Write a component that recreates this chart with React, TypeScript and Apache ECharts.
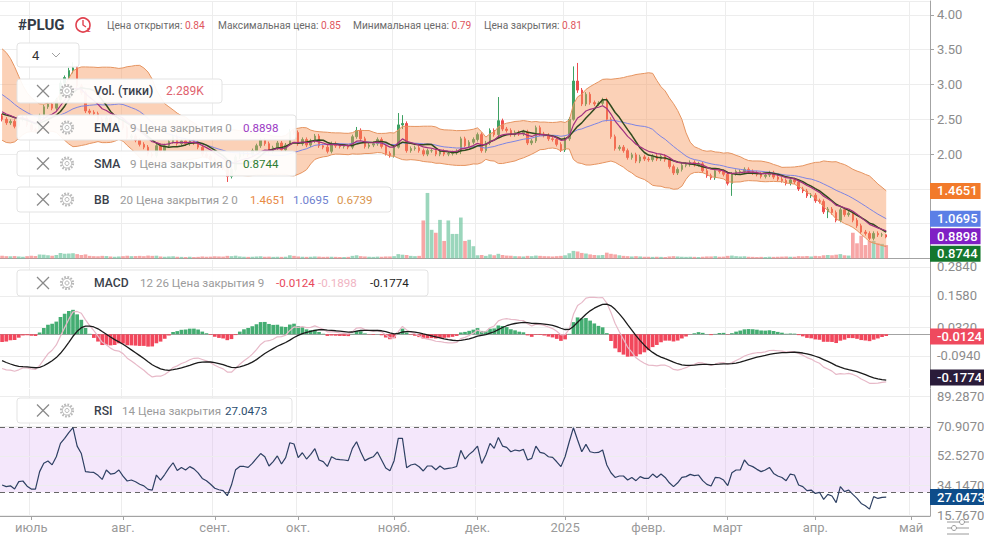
import React, { useEffect, useRef } from "react";
import * as echarts from "echarts";

// ---------- data ----------
// closes before the visible range (used only to warm up the indicators)
const warmupCloses = [2.95, 3.0, 2.92, 2.98, 3.05, 3.0, 2.94, 2.98, 3.06, 3.12, 3.05, 3.1, 3.18, 3.22, 3.3, 3.38, 3.45, 3.4, 3.28, 3.12, 2.98, 2.86, 2.78, 2.7, 2.66, 2.62, 2.6, 2.58, 2.62, 2.6, 2.58, 2.56, 2.55];

// daily closes, 20 Jun 2024 .. 25 Apr 2025
const closes = [
  2.5, 2.45, 2.47, 2.4, 2.5, 2.52, 2.42, 2.35, 2.34, 2.55,
  2.68, 2.72, 2.66, 2.78, 3.02, 3.1, 3.2, 3.24, 2.98, 2.88,
  2.62, 2.6, 2.58, 2.5, 2.4, 2.52, 2.44, 2.45, 2.5, 2.38,
  2.24, 2.26, 2.2, 2.14, 2.1, 2.0, 1.98, 2.12, 2.05, 2.12,
  2.18, 2.25, 2.15, 2.19, 2.15, 2.19, 2.16, 2.1, 2.0, 1.97,
  1.92, 1.84, 1.82, 1.8, 1.68, 1.78, 1.96, 2.0, 2.0, 1.99,
  2.05, 2.12, 2.2, 2.15, 2.04, 2.09, 2.16, 2.06, 2.13, 2.32,
  2.31, 2.15, 2.21, 2.13, 2.19, 2.26, 2.12, 2.1, 2.04, 2.15,
  2.12, 2.11, 2.11, 2.1, 2.25, 2.34, 2.22, 2.11, 2.13, 2.15,
  2.21, 2.11, 2.01, 1.98, 2.1, 2.42, 2.44, 2.05, 2.08, 2.09,
  2.05, 2.0, 2.05, 2.05, 2.0, 2.04, 2.0, 2.01, 2.02, 2.04,
  2.22, 2.12, 2.17, 2.21, 2.28, 2.05, 2.16, 2.34, 2.28, 2.48,
  2.36, 2.34, 2.28, 2.31, 2.29, 2.32, 2.16, 2.19, 2.38, 2.29,
  2.27, 2.22, 2.21, 2.14, 2.06, 2.22, 2.5, 3.05, 2.92, 2.72,
  2.86, 2.74, 2.72, 2.73, 2.78, 2.5, 2.25, 2.08, 2.1, 2.05,
  1.95, 1.99, 1.9, 1.96, 1.93, 1.92, 1.97, 1.93, 1.97, 1.92,
  1.82, 1.73, 1.78, 1.84, 1.85, 1.88, 1.85, 1.86, 1.76, 1.69,
  1.66, 1.76, 1.75, 1.71, 1.58, 1.72, 1.75, 1.75, 1.78, 1.75,
  1.73, 1.71, 1.68, 1.7, 1.73, 1.67, 1.64, 1.62, 1.58, 1.63,
  1.6, 1.5, 1.47, 1.4, 1.41, 1.33, 1.32, 1.17, 1.21, 1.16,
  1.05, 1.2, 1.13, 1.15, 1.05, 0.97, 0.88, 0.86, 0.79, 0.86,
  0.84, 0.84, 0.81,
];

// notable wicks: [candle index, high, low]
const wickExtremes: [number, number, number][] = [
  [14, 3.06, 2.74], [16, 3.24, 3.08], [17, 3.32, 3.16], [54, 1.81, 1.6], [69, 2.36, 2.12],
  [85, 2.39, 2.22], [95, 2.59, 2.08], [96, 2.56, 2.36], [110, 2.25, 2.0], [119, 2.82, 2.26],
  [137, 3.26, 2.48], [138, 3.31, 2.88], [175, 1.74, 1.4], [198, 1.24, 1.08], [212, 0.85, 0.79],
];

// volume, thousands of ticks
const volumesK = [
  0.45, 0.4, 0.38, 0.42, 0.35, 0.3, 0.4, 0.45, 0.42, 0.7,
  0.65, 0.55, 0.45, 0.6, 0.95, 0.8, 0.85, 0.9, 0.75, 0.6,
  0.7, 0.45, 0.4, 0.38, 0.45, 0.42, 0.35, 0.3, 0.35, 0.4,
  0.45, 0.4, 0.42, 0.45, 0.4, 0.5, 0.45, 0.48, 0.35, 0.3,
  0.35, 0.38, 0.3, 0.28, 0.25, 0.3, 0.25, 0.28, 0.35, 0.3,
  0.32, 0.38, 0.35, 0.33, 0.45, 0.4, 0.48, 0.35, 0.3, 0.28,
  0.3, 0.35, 0.38, 0.3, 0.32, 0.28, 0.3, 0.28, 0.3, 0.55,
  0.45, 0.35, 0.3, 0.28, 0.3, 0.35, 0.32, 0.28, 0.3, 0.3,
  0.28, 0.25, 0.25, 0.28, 0.45, 0.55, 0.4, 0.35, 0.3, 0.28,
  0.32, 0.3, 0.35, 0.35, 0.4, 0.75, 0.65, 0.6, 0.45, 0.4,
  0.45, 6.5, 11.2, 4.9, 4.4, 6.6, 3.0, 6.5, 4.2, 4.2,
  7.0, 3.0, 3.2, 2.1, 0.55, 0.6, 0.45, 0.7, 0.55, 0.8,
  0.6, 0.5, 0.45, 0.4, 0.38, 0.35, 0.45, 0.4, 0.5, 0.45,
  0.4, 0.38, 0.35, 0.4, 0.45, 0.55, 0.9, 1.3, 1.2, 0.95,
  0.85, 0.7, 0.6, 0.55, 0.6, 1.0, 0.8, 0.7, 0.55, 0.45,
  0.4, 0.35, 0.4, 0.35, 0.3, 0.3, 0.28, 0.3, 0.28, 0.25,
  0.35, 0.4, 0.35, 0.3, 0.28, 0.3, 0.28, 0.25, 0.3, 0.35,
  0.35, 0.4, 0.3, 0.32, 0.45, 0.5, 0.4, 0.35, 0.38, 0.3,
  0.28, 0.25, 0.28, 0.25, 0.3, 0.28, 0.3, 0.32, 0.35, 0.3,
  0.3, 0.4, 0.38, 0.42, 0.35, 0.45, 0.4, 0.55, 0.6, 0.55,
  0.65, 0.75, 0.55, 0.5, 4.4, 2.6, 3.9, 2.3, 3.0, 3.0,
  2.6, 2.5, 2.289,
];

// RSI(14) as drawn
const rsiValues = [
  34.5, 33.5, 34, 32, 36.6, 37, 33.8, 32, 32, 42.8,
  48, 49.4, 47, 52, 60.3, 63.4, 67, 70, 58.6, 54,
  42.8, 42.5, 42.3, 40.5, 38, 43.8, 41.3, 41.7, 43.8, 40,
  37, 37.6, 36.5, 35, 34, 31.8, 31.4, 40.7, 37.6, 41,
  45, 48.3, 43.5, 45.4, 43.8, 45.9, 44.5, 42, 38.6, 37.2,
  35, 32.5, 31.6, 31, 27.9, 34.5, 44, 46, 46, 45.4,
  47.9, 51, 54, 52, 46.3, 49, 52.5, 47.5, 51.5, 60.7,
  59.9, 51.5, 54.5, 50.6, 53.5, 57, 50, 49, 46, 52,
  50.6, 50.2, 50, 49.6, 57.2, 61.3, 55, 49.6, 51, 52,
  55, 50, 45, 43.4, 49.6, 63.4, 63.4, 45.2, 46.9, 47.5,
  45.8, 43.2, 46.3, 46.3, 44, 46.3, 44.4, 44.8, 45.2, 46,
  56, 50.6, 53.5, 55.6, 58.6, 47.9, 53.1, 60.3, 57.2, 64,
  58.6, 57.8, 55.1, 56.2, 55.6, 56.6, 50, 51, 58.6, 54.7,
  54.1, 52, 51.6, 48.9, 45.9, 52, 61.3, 70, 62.4, 55.1,
  59.7, 55.1, 54.5, 54.7, 56.2, 46.9, 42.1, 39.2, 40.1, 40.1,
  37.6, 39.2, 37.2, 39.7, 38.6, 38.6, 41.3, 39.2, 41.3, 39.2,
  35.9, 33.5, 35.9, 39.2, 39.7, 41.1, 40.3, 40.7, 37.2, 34.9,
  33.9, 39.2, 39, 37.6, 34.1, 42.1, 43.8, 43.8, 50, 46.9,
  45.9, 44.2, 42.8, 43.8, 45.4, 41.7, 40.1, 39.2, 37.2, 41.3,
  40.7, 34.5, 33.5, 31, 31.4, 29.3, 30, 25.6, 28.7, 27.7,
  23.6, 33.5, 30.4, 31.4, 28.7, 26.2, 23.1, 21.7, 19.6, 27.3,
  26.2, 26.9, 27.0473,
];

const holidays = ["2024-07-04", "2024-09-02", "2024-11-28", "2024-12-25", "2025-01-01", "2025-01-09", "2025-01-20", "2025-02-17", "2025-04-18"];
const monthNames = ["2025", "февр.", "март", "апр.", "май", "июнь", "июль", "авг.", "сент.", "окт.", "нояб.", "дек."];
const macdTicks = [0.284, 0.158, 0.032, -0.094];
const rsiTicks = [89.287, 70.907, 52.527, 34.147, 15.767];
const rsiBands = [30, 70];

const headerStats: [string, string][] = [
  ["Цена открытия: ", "0.84"],
  ["Максимальная цена: ", "0.85"],
  ["Минимальная цена: ", "0.79"],
  ["Цена закрытия: ", "0.81"],
];
const lastValues = {
  vol: "2.289K",
  ema: 0.8898,
  sma: 0.8744,
  bbUpper: 1.4651,
  bbMid: 1.0695,
  bbLower: 0.6739,
  macdHist: -0.0124,
  macd: -0.1898,
  signal: -0.1774,
  rsi: 27.0473,
};

// ---------- helpers ----------
const FONT = 'Roboto, "Noto Sans", Arial, sans-serif';

function buildDates(total: number) {
  const out: string[] = [];
  const d = new Date(Date.UTC(2024, 5, 20));
  const lastTrading = Date.UTC(2025, 3, 25);
  while (out.length < total) {
    const iso = d.toISOString().slice(0, 10);
    const wd = d.getUTCDay();
    if (d.getTime() <= lastTrading) {
      if (wd !== 0 && wd !== 6 && !holidays.includes(iso)) out.push(iso);
    } else {
      out.push(iso);
    }
    d.setUTCDate(d.getUTCDate() + 1);
  }
  return out;
}

function sma(a: number[], n: number) {
  return a.map((_, i) => {
    const s = a.slice(Math.max(0, i - n + 1), i + 1);
    return s.reduce((x, y) => x + y, 0) / s.length;
  });
}
function stdev(a: number[], n: number) {
  return a.map((_, i) => {
    const s = a.slice(Math.max(0, i - n + 1), i + 1);
    const m = s.reduce((x, y) => x + y, 0) / s.length;
    return Math.sqrt(s.reduce((x, y) => x + (y - m) * (y - m), 0) / s.length);
  });
}
function ema(a: number[], n: number) {
  const k = 2 / (n + 1);
  const out: number[] = [];
  a.forEach((v, i) => out.push(i === 0 ? v : v * k + out[i - 1] * (1 - k)));
  return out;
}

function buildOption() {
  const dates = buildDates(223);
  const isMonthStart = (i: number) => i > 0 && dates[i].slice(0, 7) !== dates[i - 1].slice(0, 7);
  const monthLabel = (i: number) => monthNames[(parseInt(dates[i].slice(5, 7), 10) - 1) % 12];

  const W = warmupCloses.length;
  const full = warmupCloses.concat(closes);
  const cut = (a: number[]) => a.slice(W).map((v) => +v.toFixed(4));
  const mid = sma(full, 20);
  const sd = stdev(full, 20);
  const upper = cut(mid.map((m, i) => m + 2 * sd[i]));
  const lower = cut(mid.map((m, i) => m - 2 * sd[i]));
  const middle = cut(mid);
  const bandDiff = upper.map((u, i) => +(u - lower[i]).toFixed(4));
  const ema9 = cut(ema(full, 9));
  const sma9 = cut(sma(full, 9));
  const e12 = ema(full, 12);
  const e26 = ema(full, 26);
  const macdFull = e12.map((v, i) => v - e26[i]);
  const sigFull = ema(macdFull, 9);
  const macdLine = cut(macdFull);
  const signalLine = cut(sigFull);
  const hist = macdLine.map((v, i) => +(v - signalLine[i]).toFixed(4));

  const opens = closes.map((c, i) => (i === 0 ? warmupCloses[W - 1] : closes[i - 1]));
  const wickMap = new Map<number, [number, number]>();
  wickExtremes.forEach(([i, h, l]) => wickMap.set(i, [h, l]));
  const candles = closes.map((c, i) => {
    const o = opens[i];
    const w = wickMap.get(i);
    const hi = w ? Math.max(w[0], o, c) : Math.max(o, c) + 0.03;
    const lo = w ? Math.min(w[1], o, c) : Math.min(o, c) - 0.03;
    return [o, c, +lo.toFixed(3), +hi.toFixed(3)];
  });
  const UP = "#3ea163";
  const DOWN = "#ef4d4d";
  const volData = volumesK.map((v, i) => ({
    value: v,
    itemStyle: { color: closes[i] >= opens[i] ? "rgba(112,196,160,0.7)" : "rgba(244,128,128,0.7)" },
  }));
  const histData = hist.map((v) => ({ value: v, itemStyle: { color: v >= 0 ? "#44ad72" : "#f2475c" } }));

  const xAxis = (gi: number, labels: boolean) => ({
    type: "category",
    gridIndex: gi,
    data: dates,
    boundaryGap: true,
    axisLine: { show: true, lineStyle: { color: "#a3a3a3", width: 1 } },
    axisTick: { show: labels, alignWithLabel: true, interval: (i: number) => isMonthStart(i), length: 4, lineStyle: { color: "#a3a3a3" } },
    axisLabel: {
      show: labels,
      interval: (i: number) => isMonthStart(i),
      formatter: (_v: string, i: number) => monthLabel(i),
      color: "#9a9a9a",
      fontSize: 13,
      fontFamily: FONT,
      margin: 5,
    },
    splitLine: { show: true, interval: (i: number) => isMonthStart(i), lineStyle: { color: "#ededed", width: 1 } },
  });

  const gridLine = (v: number, digits: number) => ({
    yAxis: v,
    lineStyle: { color: "#ededed", type: "solid", width: 1 },
    label: { show: true, position: "end", distance: 7, formatter: v.toFixed(digits), color: "#8c8c8c", fontSize: 13, fontFamily: FONT },
  });
  const badge = (v: number, text: string, bg: string, dy: number) => ({
    yAxis: v,
    lineStyle: { color: "rgba(0,0,0,0)", width: 0 },
    label: {
      show: true,
      position: "end",
      distance: 0,
      formatter: text,
      color: "#fff",
      backgroundColor: bg,
      fontSize: 13,
      fontWeight: 500,
      fontFamily: FONT,
      padding: [2, 3, 1, 7],
      offset: [0, dy],
    },
  });

  // ---------- graphic overlay ----------
  const txt = (x: number, y: number, text: string, color: string, size = 11.6, weight: string | number = "normal") => ({
    type: "text",
    x,
    y,
    z: 102,
    style: { text, fill: color, font: `${weight} ${size}px ${FONT}`, verticalAlign: "middle" },
  });
  const box = (x: number, y: number, w: number, h: number) => ({
    type: "rect",
    z: 100,
    shape: { x, y, width: w, height: h, r: 3 },
    style: { fill: "rgba(255,255,255,0.93)", stroke: "#e3e3e3", lineWidth: 1 },
  });
  const closeIcon = (cx: number, cy: number) => [
    { type: "line", z: 101, shape: { x1: cx - 6, y1: cy - 6, x2: cx + 6, y2: cy + 6 }, style: { stroke: "#8a8a8a", lineWidth: 1.2 } },
    { type: "line", z: 101, shape: { x1: cx - 6, y1: cy + 6, x2: cx + 6, y2: cy - 6 }, style: { stroke: "#8a8a8a", lineWidth: 1.2 } },
  ];
  const gearIcon = (cx: number, cy: number) => [
    { type: "circle", z: 101, shape: { cx, cy, r: 6 }, style: { fill: "none", stroke: "#b8b8b8", lineWidth: 2.2, lineDash: [1.7, 1.45] } },
    { type: "circle", z: 101, shape: { cx, cy, r: 4.6 }, style: { fill: "#fff", stroke: "#b8b8b8", lineWidth: 1 } },
    { type: "circle", z: 101, shape: { cx, cy, r: 2 }, style: { fill: "none", stroke: "#b8b8b8", lineWidth: 1 } },
  ];
  const legendRow = (y: number, h: number, w: number, parts: [number, string, string, (string | number)?, number?][]) => [
    box(17, y, w, h),
    ...closeIcon(43, y + h / 2),
    ...gearIcon(67, y + h / 2),
    ...parts.map(([x, t, c, wt, sz]) => txt(x, y + h / 2, t, c, sz ?? 11.6, wt ?? "normal")),
  ];
  const TITLE = "#3a3f4b";
  const GRAY = "#9b9b9b";

  const statX = [107, 218, 353, 484];
  const headerEls = headerStats.map(([label, val], k) => ({
    type: "text",
    x: statX[k],
    y: 25,
    z: 102,
    style: {
      text: `{a|${label}}{b|${val}}`,
      verticalAlign: "middle",
      rich: {
        a: { fill: "#6b6b6b", font: `normal 10.2px ${FONT}` },
        b: { fill: "#e0565e", font: `normal 10.2px ${FONT}` },
      },
    },
  }));

  const graphicEls: any[] = [
    txt(18, 25, "#PLUG", "#333a45", 15, "bold"),
    { type: "circle", z: 101, shape: { cx: 83, cy: 25, r: 7 }, style: { fill: "none", stroke: "#e0424f", lineWidth: 1.6 } },
    { type: "polyline", z: 101, shape: { points: [[83, 20], [83, 25], [86, 27]] }, style: { fill: "none", stroke: "#e0424f", lineWidth: 1.4 } },
    { type: "text", x: 87, y: 30, z: 102, style: { text: "z", fill: "#e0424f", font: `bold 7px ${FONT}`, verticalAlign: "middle" } },
    ...headerEls,
    box(17, 43, 62, 24),
    txt(32, 55, "4", "#333", 13),
    { type: "polyline", z: 101, shape: { points: [[52, 53], [56, 57], [60, 53]] }, style: { fill: "none", stroke: "#a0a0a0", lineWidth: 1 } },
    ...legendRow(79, 24, 205, [[94, "Vol. (тики)", TITLE, 500, 12.2], [166, lastValues.vol, "#e0626e", "normal", 12]]),
    ...legendRow(115, 25, 279, [[94, "EMA", TITLE, 500, 12.2], [130, "9 Цена закрытия 0", GRAY], [243, lastValues.ema.toFixed(4), "#9c3cc4"]]),
    ...legendRow(151, 25, 279, [[94, "SMA", TITLE, 500, 12.2], [130, "9 Цена закрытия 0", GRAY], [243, lastValues.sma.toFixed(4), "#2e7d32"]]),
    ...legendRow(187, 25, 374, [
      [94, "BB", TITLE, 500, 12.2],
      [120, "20 Цена закрытия 2 0", GRAY],
      [250, lastValues.bbUpper.toFixed(4), "#e88a45"],
      [293, lastValues.bbMid.toFixed(4), "#6f7fcf"],
      [337, lastValues.bbLower.toFixed(4), "#d9954e"],
    ]),
    ...legendRow(270, 26, 411, [
      [94, "MACD", TITLE, 500, 12.2],
      [140, "12 26 Цена закрытия 9", GRAY],
      [276, lastValues.macdHist.toFixed(4), "#e8475a"],
      [318, lastValues.macd.toFixed(4), "#f0b4c3"],
      [370, lastValues.signal.toFixed(4), "#222"],
    ]),
    ...legendRow(398, 25, 275, [[94, "RSI", TITLE, 500, 12.2], [122, "14 Цена закрытия", GRAY], [225, lastValues.rsi.toFixed(4), "#2b4d6e"]]),
    // settings icon bottom right
    { type: "line", z: 101, shape: { x1: 947, y1: 522, x2: 969, y2: 522 }, style: { stroke: "#9a9a9a", lineWidth: 1 } },
    { type: "line", z: 101, shape: { x1: 947, y1: 528, x2: 969, y2: 528 }, style: { stroke: "#9a9a9a", lineWidth: 1 } },
    { type: "line", z: 101, shape: { x1: 947, y1: 534, x2: 969, y2: 534 }, style: { stroke: "#9a9a9a", lineWidth: 1 } },
    { type: "circle", z: 102, shape: { cx: 962, cy: 522, r: 2.5 }, style: { fill: "#fff", stroke: "#9a9a9a", lineWidth: 1 } },
    { type: "circle", z: 102, shape: { cx: 954, cy: 528, r: 2.5 }, style: { fill: "#fff", stroke: "#9a9a9a", lineWidth: 1 } },
  ];

  return {
    animation: false,
    backgroundColor: "#fff",
    textStyle: { fontFamily: FONT },
    grid: [
      { left: 0, right: 54, top: 1, height: 257.5 },
      { left: 0, right: 54, top: 260, height: 128 },
      { left: 0, right: 54, top: 389, height: 127 },
    ],
    xAxis: [xAxis(0, false), xAxis(1, false), xAxis(2, true)],
    yAxis: [
      {
        type: "value",
        gridIndex: 0,
        position: "right",
        min: 0.5,
        max: 4.2,
        interval: 0.5,
        axisLine: { show: true, lineStyle: { color: "#a3a3a3" } },
        axisTick: { show: true, length: 4, lineStyle: { color: "#a3a3a3" } },
        axisLabel: {
          color: "#8c8c8c",
          fontSize: 13,
          fontFamily: FONT,
          margin: 7,
          showMaxLabel: false,
          formatter: (v: number) => (v >= 1.99 && v <= 4.01 ? v.toFixed(2) : ""),
        },
        splitLine: { show: true, lineStyle: { color: "#ededed" } },
      },
      { type: "value", gridIndex: 0, min: 0, max: 44, show: false, splitLine: { show: false } },
      {
        type: "value",
        gridIndex: 1,
        position: "right",
        min: -0.224,
        max: 0.309,
        axisLine: { show: true, lineStyle: { color: "#a3a3a3" } },
        axisTick: { show: false },
        axisLabel: { show: false },
        splitLine: { show: false },
      },
      {
        type: "value",
        gridIndex: 2,
        position: "right",
        min: 15.33,
        max: 93.96,
        axisLine: { show: true, lineStyle: { color: "#a3a3a3" } },
        axisTick: { show: false },
        axisLabel: { show: false },
        splitLine: { show: false },
      },
    ],
    series: [
      {
        name: "bbLower",
        type: "line",
        xAxisIndex: 0,
        yAxisIndex: 0,
        stack: "bb",
        data: lower,
        symbol: "none",
        lineStyle: { color: "#e59460", width: 1 },
        silent: true,
      },
      {
        name: "bbBand",
        type: "line",
        xAxisIndex: 0,
        yAxisIndex: 0,
        stack: "bb",
        data: bandDiff,
        symbol: "none",
        lineStyle: { width: 0, color: "rgba(0,0,0,0)" },
        areaStyle: { color: "rgba(247,150,92,0.44)", opacity: 1 },
        silent: true,
      },
      {
        name: "bbUpper",
        type: "line",
        xAxisIndex: 0,
        yAxisIndex: 0,
        data: upper,
        symbol: "none",
        lineStyle: { color: "#e59460", width: 1 },
        silent: true,
      },
      {
        name: "volume",
        type: "bar",
        xAxisIndex: 0,
        yAxisIndex: 1,
        data: volData,
        barCategoryGap: "12%",
        silent: true,
      },
      {
        name: "bbMid",
        type: "line",
        xAxisIndex: 0,
        yAxisIndex: 0,
        data: middle,
        symbol: "none",
        lineStyle: { color: "#7c84e4", width: 1 },
        silent: true,
      },
      {
        name: "price",
        type: "candlestick",
        xAxisIndex: 0,
        yAxisIndex: 0,
        data: candles,
        barWidth: 2,
        itemStyle: { color: UP, color0: DOWN, borderColor: UP, borderColor0: DOWN, borderWidth: 1 },
        silent: true,
      },
      {
        name: "sma9",
        type: "line",
        xAxisIndex: 0,
        yAxisIndex: 0,
        data: sma9,
        symbol: "none",
        lineStyle: { color: "#2f4a1e", width: 1.5 },
        silent: true,
      },
      {
        name: "ema9",
        type: "line",
        xAxisIndex: 0,
        yAxisIndex: 0,
        data: ema9,
        symbol: "none",
        lineStyle: { color: "#a1307f", width: 1.2 },
        silent: true,
        markLine: {
          silent: true,
          symbol: ["none", "none"],
          z: 6,
          data: [
            badge(lastValues.bbUpper, lastValues.bbUpper.toFixed(4), "#f27a2a", 0),
            badge(lastValues.bbMid, lastValues.bbMid.toFixed(4), "#5b7fe6", 0),
            badge(lastValues.ema, lastValues.ema.toFixed(4), "#7f1fc4", 5),
            badge(lastValues.sma, lastValues.sma.toFixed(4), "#15772e", 21),
          ],
        },
      },
      // MACD
      {
        name: "macdHist",
        type: "bar",
        xAxisIndex: 1,
        yAxisIndex: 2,
        data: histData,
        barCategoryGap: "12%",
        silent: true,
        markLine: {
          silent: true,
          symbol: ["none", "none"],
          z: 6,
          data: [
            badge(lastValues.macdHist, lastValues.macdHist.toFixed(4), "#ef4a5e", 0),
            badge(lastValues.signal, lastValues.signal.toFixed(4), "#2a1c3a", 0),
          ],
        },
      },
      {
        name: "macd",
        type: "line",
        xAxisIndex: 1,
        yAxisIndex: 2,
        data: macdLine,
        symbol: "none",
        lineStyle: { color: "#e7b9c8", width: 1.2 },
        silent: true,
        markLine: {
          silent: true,
          symbol: ["none", "none"],
          z: 1,
          data: macdTicks.map((v) => gridLine(v, 4)),
        },
      },
      {
        name: "signal",
        type: "line",
        xAxisIndex: 1,
        yAxisIndex: 2,
        data: signalLine,
        symbol: "none",
        lineStyle: { color: "#1b1b1b", width: 1.3 },
        silent: true,
      },
      // RSI
      {
        name: "rsi",
        type: "line",
        xAxisIndex: 2,
        yAxisIndex: 3,
        data: rsiValues,
        symbol: "none",
        lineStyle: { color: "#2e4063", width: 1.2 },
        silent: true,
        markArea: {
          silent: true,
          z: 0,
          itemStyle: { color: "rgba(214,170,240,0.28)" },
          data: [[{ yAxis: rsiBands[0] }, { yAxis: rsiBands[1] }]],
        },
        markLine: {
          silent: true,
          symbol: ["none", "none"],
          z: 1,
          data: [
            ...rsiTicks.map((v) => gridLine(v, 4)),
            ...rsiBands.map((v) => ({ yAxis: v, lineStyle: { color: "#666", type: [5, 4], width: 1 }, label: { show: false } })),
            badge(lastValues.rsi, lastValues.rsi.toFixed(4), "#0e4d8a", 0),
          ],
        },
      },
    ],
    graphic: { elements: graphicEls },
  };
}

export default function App() {
  const ref = useRef<HTMLDivElement>(null);
  useEffect(() => {
    document.body.style.margin = "0";
    const chart = echarts.init(ref.current as HTMLDivElement, null, { renderer: "svg" });
    chart.setOption(buildOption() as any);
    return () => chart.dispose();
  }, []);
  return <div ref={ref} style={{ width: 984, height: 542, background: "#fff" }} />;
}
